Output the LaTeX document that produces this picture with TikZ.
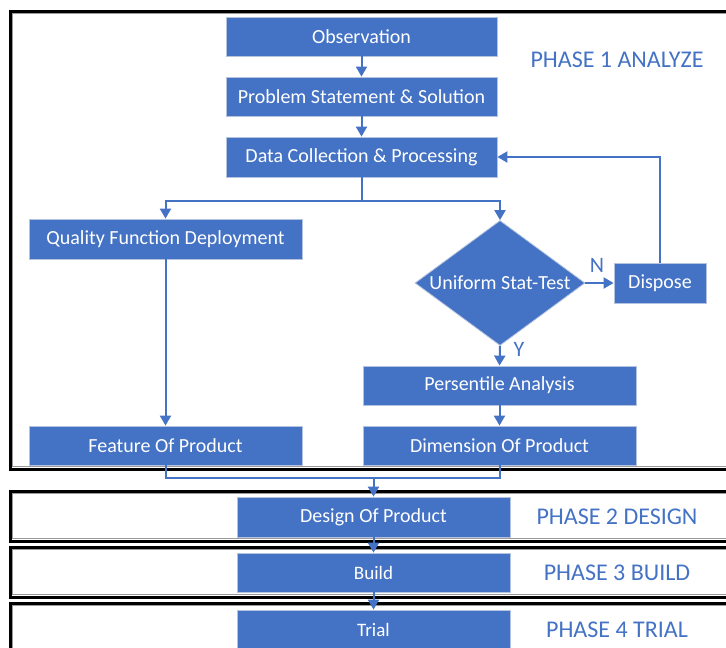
\documentclass[tikz,border=0pt]{standalone}
\usepackage{fontspec}
\setmainfont{Carlito}
\usetikzlibrary{arrows.meta,shapes.geometric}
\definecolor{obl}{HTML}{4472C4}
\definecolor{bbd}{HTML}{B4C3E0}
\definecolor{frg}{HTML}{9A9A9A}
\tikzset{
  box/.style={draw=bbd,line width=0.8pt,fill=obl,text=white,inner sep=0pt,minimum width=273pt,minimum height=40pt,font=\fontsize{20}{22}\selectfont},
  dia/.style={diamond,draw=bbd,line width=0.8pt,fill=obl,inner sep=0pt,minimum width=170pt,minimum height=125pt},
  txt/.style={text=white,inner sep=0pt,font=\fontsize{20}{22}\selectfont},
  arr/.style={draw=obl,line width=2pt,-{Triangle[width=11pt,length=10pt]}},
  ln/.style={draw=obl,line width=2pt},
  frame/.style={draw=black,line width=3pt},
  framein/.style={draw=frg,line width=0.7pt},
  phase/.style={text=obl,inner sep=0pt,font=\fontsize{24}{26}\selectfont},
  yn/.style={text=obl,inner sep=0pt,font=\fontsize{22}{24}\selectfont}
}
\begin{document}
\begin{tikzpicture}[x=1pt,y=1pt]
\useasboundingbox (0,0) rectangle (726,-648);
\clip (0,0) rectangle (726,-648);
% frames
\draw[frame] (10,-11) rectangle (740,-469);
\draw[framein] (12.5,-13.5) rectangle (740,-466.5);
\draw[frame] (10,-491) rectangle (740,-541);
\draw[framein] (12.5,-493.5) rectangle (740,-538.5);
\draw[frame] (10,-547) rectangle (740,-597);
\draw[framein] (12.5,-549.5) rectangle (740,-594.5);
\draw[frame] (10,-603) rectangle (740,-660);
\draw[framein] (12.5,-605.5) rectangle (740,-660);
% nodes
\node[box,minimum width=271pt,minimum height=39pt] (obs) at (361.5,-36.5) {Observation};
\node[box,minimum width=271pt,minimum height=39pt] (pss) at (361.5,-96.5) {Problem Statement \& Solution};
\node[box,minimum width=271pt] (dcp) at (361.5,-157) {Data Collection \& Processing};
\node[box] (qfd) at (165.5,-239) {Quality Function Deployment};
\node[dia] (ust) at (500,-283) {};
\node[txt] (ustt) at (ust.center) {Uniform Stat-Test};
\node[box,minimum width=92pt] (dis) at (660,-283) {Dispose};
\node[box,minimum height=39pt] (pa) at (499.5,-385.5) {Persentile Analysis};
\node[box,minimum height=39pt] (fop) at (165.5,-445.5) {Feature Of Product};
\node[box,minimum height=39pt] (dop) at (499.5,-445.5) {Dimension Of Product};
\node[box] (des) at (373.5,-517) {Design Of Product};
\node[box,minimum height=39pt,font=\fontsize{19}{20}\selectfont] (bld) at (373.5,-572.5) {Build};
\node[box,font=\fontsize{19}{20}\selectfont] (trl) at (373.5,-630) {Trial};
% phase labels
\node[phase] (ph1) at (617,-60) {PHASE 1 ANALYZE};
\node[phase] (ph2) at (617,-517) {PHASE 2 DESIGN};
\node[phase] (ph3) at (617,-573) {PHASE 3 BUILD};
\node[phase] (ph4) at (617,-630) {PHASE 4 TRIAL};
% connectors
\coordinate (split) at (361.5,-201);
\coordinate (join) at (373.5,-478);
\draw[arr] (obs.south) -- (pss.north);
\draw[arr] (pss.south) -- (dcp.north);
\draw[ln] (dcp.south) -- (split);
\draw[arr] (split) -| (qfd.north);
\draw[arr] (split) -| (ust.north);
\draw[arr] (ust.east) -- (dis.west);
\draw[arr] (dis.north) |- (dcp.east);
\draw[arr] (ust.south) -- (pa.north);
\draw[arr] (pa.south) -- (dop.north);
\draw[arr] (qfd.south) -- (fop.north);
\draw[ln] (fop.south) |- (join);
\draw[ln] (dop.south) |- (join);
\draw[arr] (join) -- (des.north);
\draw[arr] (des.south) -- (bld.north);
\draw[arr] (bld.south) -- (trl.north);
% Y/N labels
\node[yn] (nl) at (597,-265) {N};
\node[yn] (yl) at (519,-349) {Y};
\end{tikzpicture}
\end{document}
